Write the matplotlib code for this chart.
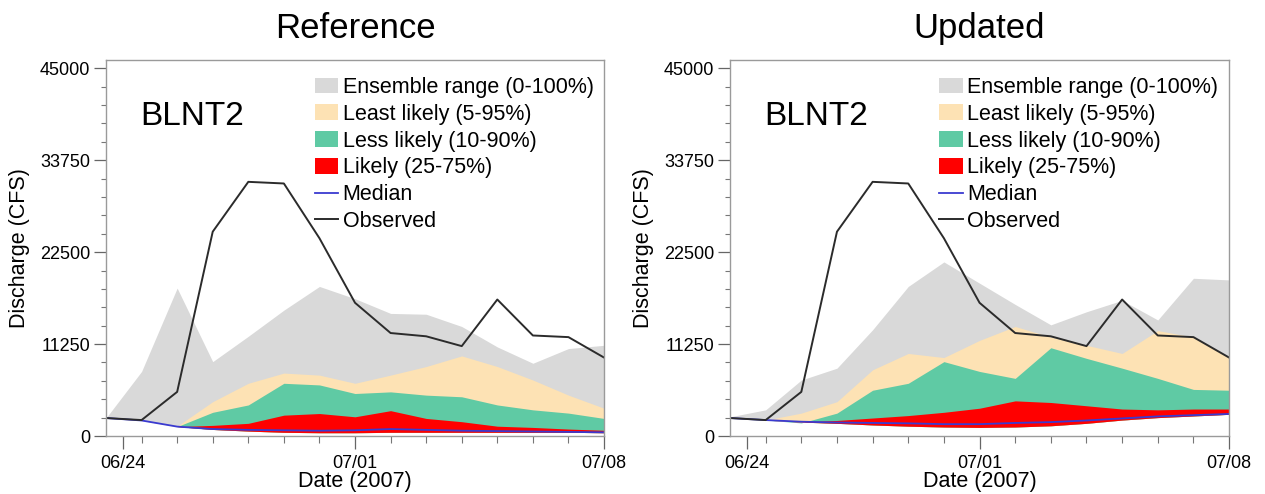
#!/usr/bin/env python3
"""
Ensemble streamflow forecast at BLNT2: reference vs updated ensemble.
"""

import matplotlib
matplotlib.use('Agg')
import matplotlib.pyplot as plt
from matplotlib.patches import Patch
from matplotlib.lines import Line2D

plt.rcParams['font.family'] = ['Liberation Sans', 'DejaVu Sans']

OUTPUT_FILE = 'out.png'

# Days since start of the forecast window (06/23 12Z .. 07/08)
days = list(range(15))

# Observed discharge (CFS), same for both runs
observed = [2200, 1950, 5400, 25000, 31100, 30900, 24200, 16300,
            12600, 12200, 11000, 16700, 12300, 12100, 9600]

# Reference ensemble percentiles
ref_p100 = [2200, 7900, 18100, 9100, 12200, 15400, 18300, 16800,
            15000, 14900, 13400, 10900, 8900, 10700, 11100]
ref_p95 = [2200, 1900, 1200, 4200, 6450, 7700, 7450, 6450,
           7450, 8500, 9800, 8500, 6850, 5000, 3400]
ref_p90 = [2200, 1900, 1150, 2900, 3800, 6450, 6250, 5200,
           5400, 5000, 4800, 3800, 3200, 2800, 2150]
ref_p75 = [2200, 1900, 1150, 1300, 1550, 2550, 2750, 2350,
           3100, 2150, 1750, 1200, 1050, 850, 700]
ref_p50 = [2200, 1900, 1150, 850, 750, 700, 650, 700,
           850, 750, 650, 600, 550, 500, 450]
ref_floor = [2200, 1900, 1150, 800, 600, 450, 400, 400,
             450, 450, 450, 450, 450, 450, 400]

# Updated ensemble percentiles
upd_p100 = [2350, 3200, 6850, 8300, 13000, 18300, 21300, 18700,
            16100, 13600, 15200, 16600, 14200, 19300, 19100]
upd_p95 = [2200, 1950, 2800, 4200, 8100, 10100, 9600, 11700,
           13400, 12100, 11100, 10100, 12900, 12100, 9700]
upd_p90 = [2200, 1950, 1600, 2800, 5600, 6450, 9100, 7900,
           7050, 10800, 9500, 8300, 7050, 5700, 5600]
upd_p75 = [2200, 1950, 1750, 1900, 2200, 2500, 2900, 3400,
           4300, 4100, 3700, 3300, 3200, 3300, 3300]
upd_p50 = [2200, 1950, 1750, 1650, 1600, 1550, 1450, 1450,
           1600, 1700, 1900, 2150, 2400, 2550, 2700]
upd_floor = [2200, 1950, 1700, 1550, 1350, 1200, 1100, 1050,
             1100, 1250, 1550, 1950, 2250, 2450, 2650]

y_ticks = [0, 11250, 22500, 33750, 45000]
x_major = [0.47, 7, 14]
x_labels = ['06/24', '07/01', '07/08']
x_minor = list(range(1, 14))

band_colors = ['#d9d9d9', '#fde2b4', '#5fcaa4', '#ff0000']
band_labels = ['Ensemble range (0-100%)', 'Least likely (5-95%)',
               'Less likely (10-90%)', 'Likely (25-75%)']
median_color = '#3a3ad0'
obs_color = '#2b2b2b'


def draw_panel(ax, title, p100, p95, p90, p75, p50, floor):
    for top, color in zip([p100, p95, p90, p75], band_colors):
        ax.fill_between(days, floor, top, color=color, linewidth=0)
    ax.plot(days, p50, color=median_color, linewidth=1.3)
    ax.plot(days, observed, color=obs_color, linewidth=1.4)

    ax.set_xlim(0, 14)
    ax.set_ylim(0, 46000)
    ax.set_yticks(y_ticks)
    ax.set_yticks(range(0, 45001, 2250), minor=True)
    ax.set_xticks(x_major)
    ax.set_xticklabels(x_labels)
    ax.set_xticks(x_minor, minor=True)

    ax.tick_params(axis='y', which='major', direction='out', length=8.5,
                   width=0.9, pad=3, labelsize=13, color='#666666')
    ax.tick_params(axis='y', which='minor', direction='out', length=3.5,
                   width=0.8, color='#777777')
    ax.tick_params(axis='x', which='major', direction='out', length=9,
                   width=0.9, pad=5, labelsize=13, color='#666666')
    ax.tick_params(axis='x', which='minor', direction='out', length=5,
                   width=0.8, color='#777777')
    for side in ['top', 'right', 'left', 'bottom']:
        ax.spines[side].set_color('#9a9a9a')
        ax.spines[side].set_linewidth(1.0)

    ax.set_ylabel('Discharge (CFS)', fontsize=15.5)
    ax.yaxis.set_label_coords(-0.152, 0.5)
    ax.set_xlabel('Date (2007)', fontsize=15.5)
    ax.xaxis.set_label_coords(0.5, -0.093)
    ax.set_title(title, fontsize=25, pad=16)

    ax.text(0.068, 0.827, 'BLNT2', transform=ax.transAxes, fontsize=24,
            va='baseline', ha='left')

    handles = [Patch(facecolor=c, edgecolor='none') for c in band_colors]
    handles += [Line2D([], [], color=median_color, linewidth=1.3),
                Line2D([], [], color=obs_color, linewidth=1.4)]
    labels = band_labels + ['Median', 'Observed']
    ax.legend(handles, labels, loc='upper left', bbox_to_anchor=(0.419, 0.955),
              frameon=False, fontsize=15.5, borderpad=0, borderaxespad=0,
              handlelength=1.1, handleheight=0.75, handletextpad=0.2,
              labelspacing=0.27)


fig = plt.figure(figsize=(12.65, 4.94), dpi=100)
ax1 = fig.add_axes([0.0838, 0.1174, 0.3937, 0.761])
ax2 = fig.add_axes([0.5771, 0.1174, 0.3945, 0.761])

draw_panel(ax1, 'Reference', ref_p100, ref_p95, ref_p90, ref_p75, ref_p50, ref_floor)
draw_panel(ax2, 'Updated', upd_p100, upd_p95, upd_p90, upd_p75, upd_p50, upd_floor)

fig.savefig(OUTPUT_FILE, dpi=100)
